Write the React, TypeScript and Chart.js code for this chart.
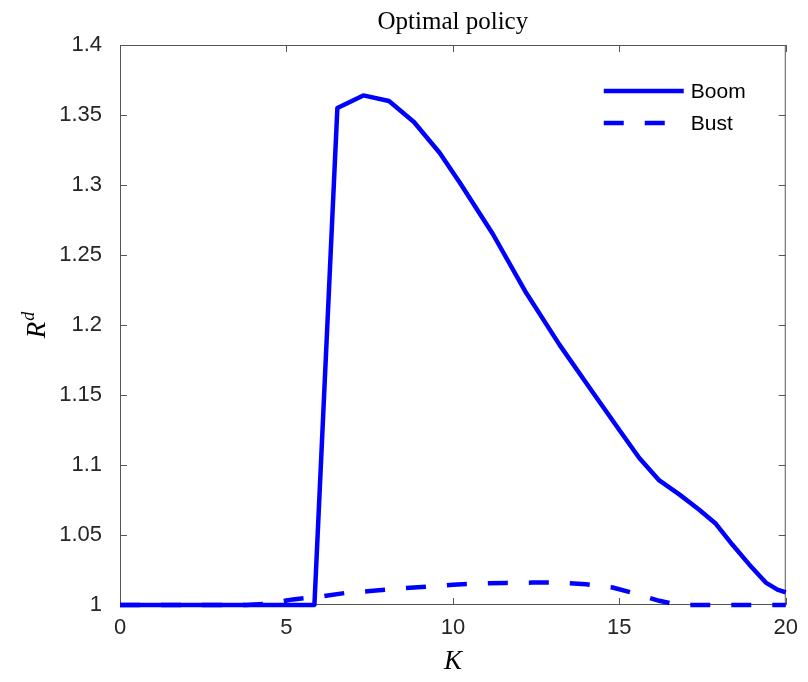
import React, { useEffect, useRef } from "react";
import { Chart, registerables } from "chart.js";

Chart.register(...registerables);

// ---- data ----
const boomK = [0, 5.84, 6.53, 7.31, 8.08, 8.83, 9.6, 10.2, 11.2, 12.2, 13.2, 14.2, 15.0, 15.6, 16.2, 16.8, 17.4, 17.9, 18.4, 18.9, 19.4, 19.75, 20];
const boomR = [1, 1, 1.355, 1.364, 1.36, 1.345, 1.323, 1.302, 1.265, 1.223, 1.186, 1.152, 1.125, 1.105, 1.089, 1.079, 1.068, 1.058, 1.043, 1.029, 1.016, 1.011, 1.009];

const bustK = [0, 3.8, 4.5, 5.2, 6.0, 6.8, 7.6, 8.4, 9.2, 10.0, 10.8, 11.6, 12.4, 13.2, 14.0, 14.8, 15.5, 16.2, 16.8, 20];
const bustR = [1, 1, 1.001, 1.004, 1.006, 1.0087, 1.0101, 1.0118, 1.013, 1.0145, 1.0153, 1.0158, 1.016, 1.016, 1.0148, 1.0125, 1.008, 1.003, 1.0, 1];

const seriesNames = ["Boom", "Bust"];
const titleText = "Optimal policy";
const xTitle = "K";
const yTitleMain = "R";
const yTitleSup = "d";
const xTicks = [0, 5, 10, 15, 20];
const yTicks = [1, 1.05, 1.1, 1.15, 1.2, 1.25, 1.3, 1.35, 1.4];

const BLUE = "#0000ff";
const AXIS = "#262626";
const SANS = "'Liberation Sans', Arial, sans-serif";
const SERIF = "'Liberation Serif', 'Times New Roman', serif";

const toPts = (xs: number[], ys: number[]) => xs.map((x, i) => ({ x, y: ys[i] }));

const framePlugin = {
  id: "frame",
  beforeDatasetsDraw(chart: any) {
    const { ctx, chartArea: ca, scales } = chart;
    ctx.save();
    ctx.strokeStyle = "#555555";
    ctx.lineWidth = 1;
    ctx.strokeRect(ca.left + 0.5, ca.top + 0.5, ca.right - ca.left - 1, ca.bottom - ca.top - 1);
    const tl = 7;
    ctx.beginPath();
    xTicks.forEach((v) => {
      const px = Math.round(scales.x.getPixelForValue(v)) + 0.5;
      ctx.moveTo(px, ca.bottom);
      ctx.lineTo(px, ca.bottom - tl);
      ctx.moveTo(px, ca.top);
      ctx.lineTo(px, ca.top + tl);
    });
    yTicks.forEach((v) => {
      const py = Math.round(scales.y.getPixelForValue(v)) + 0.5;
      ctx.moveTo(ca.left, py);
      ctx.lineTo(ca.left + tl, py);
      ctx.moveTo(ca.right, py);
      ctx.lineTo(ca.right - tl, py);
    });
    ctx.stroke();
    ctx.restore();
  },
  afterDraw(chart: any) {
    const { ctx, chartArea: ca } = chart;
    ctx.save();
    // title
    ctx.fillStyle = "#000";
    ctx.textAlign = "center";
    ctx.textBaseline = "middle";
    ctx.font = `25px ${SERIF}`;
    const cx = (ca.left + ca.right) / 2;
    ctx.fillText(titleText, cx, 22);
    // x title
    ctx.font = `italic 27px ${SERIF}`;
    ctx.fillText(xTitle, cx, 662);
    // y title
    ctx.save();
    ctx.translate(36, (ca.top + ca.bottom) / 2);
    ctx.rotate(-Math.PI / 2);
    ctx.font = `italic 27px ${SERIF}`;
    const wR = ctx.measureText(yTitleMain).width;
    ctx.font = `italic 18px ${SERIF}`;
    const wd = ctx.measureText(yTitleSup).width;
    const start = -(wR + wd + 1) / 2;
    ctx.textAlign = "left";
    ctx.textBaseline = "alphabetic";
    ctx.font = `italic 27px ${SERIF}`;
    ctx.fillText(yTitleMain, start, 9);
    ctx.font = `italic 18px ${SERIF}`;
    ctx.fillText(yTitleSup, start + wR + 1, -2);
    ctx.restore();

    // legend
    const ds = chart.data.datasets;
    const lx0 = ca.right - 182;
    const lx1 = ca.right - 102;
    const rows = [ca.top + 46, ca.top + 78];
    ds.forEach((d: any, i: number) => {
      const y = rows[i];
      ctx.beginPath();
      ctx.strokeStyle = d.borderColor;
      ctx.lineWidth = d.borderWidth;
      ctx.setLineDash(d.borderDash || []);
      ctx.moveTo(lx0, y);
      ctx.lineTo(lx1, y);
      ctx.stroke();
      ctx.setLineDash([]);
      ctx.fillStyle = "#000";
      ctx.font = `21px ${SANS}`;
      ctx.textAlign = "left";
      ctx.textBaseline = "middle";
      ctx.fillText(d.label, lx1 + 7, y + 1);
    });
    ctx.restore();
  },
};

export default function App() {
  const ref = useRef<HTMLCanvasElement>(null);
  useEffect(() => {
    const canvas = ref.current;
    if (!canvas) return;
    const chart = new Chart(canvas, {
      type: "line",
      data: {
        datasets: [
          {
            label: seriesNames[0],
            data: toPts(boomK, boomR),
            borderColor: BLUE,
            backgroundColor: BLUE,
            borderWidth: 4.5,
            pointRadius: 0,
            tension: 0,
            fill: false,
            clip: false,
            borderJoinStyle: "round",
          },
          {
            label: seriesNames[1],
            data: toPts(bustK, bustR),
            borderColor: BLUE,
            backgroundColor: BLUE,
            borderWidth: 4.5,
            borderDash: [20, 21],
            pointRadius: 0,
            tension: 0,
            fill: false,
            clip: false,
          },
        ],
      },
      options: {
        animation: false,
        responsive: false,
        layout: { padding: { top: 45, right: 18, left: 0, bottom: 0 } },
        plugins: {
          legend: { display: false },
          tooltip: { enabled: false },
          title: { display: false },
        },
        scales: {
          x: {
            type: "linear",
            min: 0,
            max: 20,
            afterBuildTicks: (s: any) => {
              s.ticks = xTicks.map((v) => ({ value: v }));
            },
            ticks: {
              autoSkip: false,
              maxRotation: 0,
              padding: 10,
              color: AXIS,
              font: { family: SANS, size: 22 },
              callback: (v: any) => String(v),
            },
            grid: { display: false, drawTicks: false },
            border: { display: false },
            afterFit: (s: any) => {
              s.height = 77;
            },
          },
          y: {
            type: "linear",
            min: 1,
            max: 1.4,
            afterBuildTicks: (s: any) => {
              s.ticks = yTicks.map((v) => ({ value: v }));
            },
            ticks: {
              autoSkip: false,
              padding: 18,
              color: AXIS,
              font: { family: SANS, size: 22 },
              callback: (v: any) => String(Number(Number(v).toFixed(2))),
            },
            grid: { display: false, drawTicks: false },
            border: { display: false },
            afterFit: (s: any) => {
              s.width = 120;
            },
          },
        },
      },
      plugins: [framePlugin],
    } as any);
    return () => chart.destroy();
  }, []);
  return (
    <div style={{ position: "absolute", left: 0, top: 0, width: 808, height: 682, background: "#fff" }}>
      <canvas ref={ref} width={808} height={682} style={{ display: "block", width: 808, height: 682 }} />
    </div>
  );
}
